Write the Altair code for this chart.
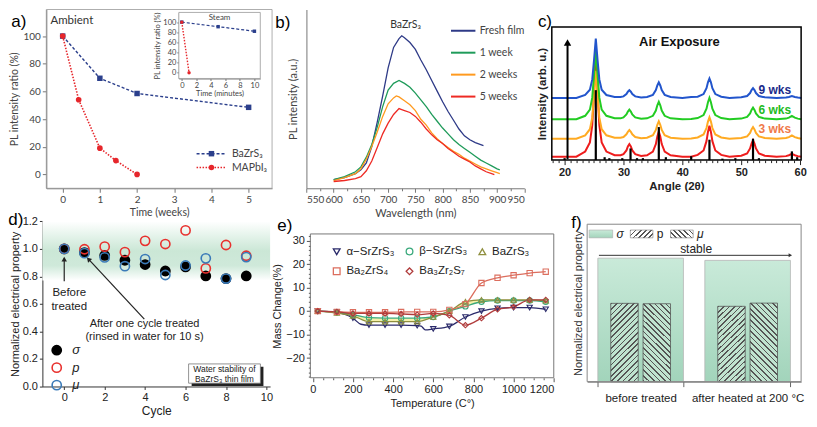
import altair as alt
import pandas as pd

FONT = "Liberation Sans"
FONT_AB = "Lato"

# ---------------- (a) PL intensity ratio vs time ----------------
a_weeks_bzs = [0, 1, 2, 5]
a_ratio_bzs = [100, 69.5, 58.5, 48.5]
a_weeks_mapi = [0, 0.43, 1, 1.43, 2]
a_ratio_mapi = [100, 54, 19, 10, 0]
a_min_bzs = [0, 5, 10]
a_steam_bzs = [100, 91, 82]
a_min_mapi = [0, 1]
a_steam_mapi = [100, 0]

# ---------------- (b) PL spectra ----------------
B_SERIES = ["Fresh film", "1 week", "2 weeks", "5 weeks"]
b_wl_fresh = [600, 620, 640, 650, 660, 670, 680, 690, 700, 710, 720, 725, 730, 740, 750, 760, 770, 780, 790, 800, 810, 820, 830, 840, 850, 860, 870, 875]
b_fresh = [9, 11, 15, 19, 26, 43, 68, 95, 124, 145, 154, 157, 155, 150, 143, 132, 122, 111, 100, 89, 79, 70, 61, 54, 50, 47, 45, 44]
b_wl_1w = [600, 620, 640, 650, 660, 670, 680, 690, 700, 710, 720, 730, 740, 750, 760, 770, 780, 790, 800, 810, 820, 830, 840, 850, 860, 870, 880, 890, 900, 905]
b_1w = [9, 12, 17, 22, 32, 45, 63, 84, 101, 108, 111, 108, 104, 98, 91, 84, 76, 69, 62, 56, 50, 45, 41, 37, 33, 29, 26, 23, 20, 19]
b_wl_2w = [600, 620, 640, 650, 660, 670, 680, 690, 700, 710, 715, 720, 730, 740, 750, 760, 770, 780, 790, 800, 810, 820, 830, 840, 850, 860, 870, 880, 890, 900, 905]
b_2w = [8, 11, 15, 20, 30, 43, 58, 74, 87, 93, 95, 94, 90, 86, 80, 71, 65, 57, 51, 46, 42, 38, 35, 31, 28, 25, 22, 20, 18, 16, 15]
b_wl_5w = [600, 620, 640, 650, 660, 670, 680, 690, 700, 710, 720, 725, 730, 740, 750, 760, 770, 780, 790, 800, 810, 820, 830, 840, 850, 860, 870, 880, 890, 895]
b_5w = [7, 8, 10, 12, 18, 28, 42, 56, 67, 76, 82, 81, 80, 78, 74, 68, 61, 55, 50, 46, 41, 37, 33, 30, 27, 23, 20, 17, 15, 14]

# ---------------- (c) XRD ----------------
c_angle = [17.8, 20, 22, 23.5, 24.3, 24.7, 25.0, 25.3, 25.6, 25.9, 26.3, 27.1, 28.5, 29.5, 30.0, 30.5, 30.75, 31, 31.25, 31.5,
           32, 33, 34, 35, 35.5, 35.75, 36, 36.25, 36.5, 37, 38, 40, 41.5, 42.6, 43.6, 44.1, 44.35, 44.6, 44.85, 45.1,
           45.6, 46.6, 48, 50, 51, 51.5, 51.75, 52, 52.25, 52.5, 53, 54, 56, 57.6, 58.1, 58.6, 59.1, 59.6, 60.2]
c_9wks = [64, 64, 64, 67, 72.5, 83, 103, 125, 103, 83, 72.5, 67, 65, 65, 65.6, 68, 70.4, 72, 70.4, 68,
          65.6, 64.5, 65, 67.2, 72, 76.8, 80, 76.8, 72, 67.2, 65, 64, 65, 65.2, 68, 74, 80, 84, 80, 74,
          68, 65.2, 64, 64.6, 66, 69, 72, 74, 72, 69, 66, 64.6, 64, 64.4, 65, 66, 65, 64.4, 64]
c_6wks = [42, 42, 42, 45.6, 52, 64.3, 88, 114, 88, 64.3, 52, 45.6, 43, 43, 44, 47, 50, 52, 50, 47,
          44, 42.6, 43, 45.6, 51, 56.4, 60, 56.4, 51, 45.6, 43, 42, 42.3, 43.3, 46.4, 53, 59.6, 64, 59.6, 53,
          46.4, 43.3, 42, 42.7, 44.4, 48, 51.6, 54, 51.6, 48, 44.4, 42.7, 42, 42.7, 43.7, 45.5, 43.7, 42.7, 42]
c_3wks = [22, 22, 22, 25.5, 31.8, 43.7, 66.8, 92, 66.8, 43.7, 31.8, 25.5, 23, 23, 23.8, 26.5, 29.2, 31, 29.2, 26.5,
          23.8, 22.5, 23, 25.6, 31, 36.4, 40, 36.4, 31, 25.6, 23, 22, 22.3, 23.3, 26.4, 33, 39.6, 44, 39.6, 33,
          26.4, 23.3, 22, 22.7, 24.4, 28, 31.6, 34, 31.6, 28, 24.4, 22.7, 22, 22.7, 23.7, 25.5, 23.7, 22.7, 22]
c_0wks = [3.5, 3.5, 3.5, 8.8, 18.2, 36, 70.5, 108.5, 70.5, 36, 18.2, 8.8, 5, 5, 6.1, 10, 14, 16.5, 14, 10,
          6.1, 4.3, 5, 8.7, 16.5, 24.3, 29.5, 24.3, 16.5, 8.7, 5, 3.5, 3.5, 5.4, 9.9, 19.5, 29, 35.5, 29, 19.5,
          9.9, 5.4, 3.5, 4.5, 6.9, 12, 17, 20.5, 17, 12, 6.9, 4.5, 3.5, 4.1, 5, 6.5, 5, 4.1, 3.5]
c_ref_angle = [20.0, 25.3, 26.8, 27.6, 29.8, 31.2, 32.3, 33.3, 36.0, 37.2, 41.5, 44.6, 46.8, 49.0, 52.0, 53.0, 58.6, 59.5]
c_ref_height = [2, 72, 3, 2, 2, 12, 2, 2, 34, 3, 4, 21, 1.5, 2, 22, 2, 9, 3]

# ---------------- (d) water stability ----------------
d_cycle = [0, 1, 2, 3, 4, 5, 6, 7, 8, 9]
d_sigma = [1.0, 0.973, 0.952, 0.917, 0.886, 0.839, 0.869, 0.803, 0.784, 0.803]
d_p = [1.0, 0.997, 1.016, 0.976, 1.058, 1.035, 1.134, 0.858, 1.028, 0.95]
d_mu = [1.0, 0.969, 0.938, 0.874, 0.926, 0.81, 0.879, 0.931, 0.784, 0.94]

# ---------------- (e) TGA ----------------
E_SERIES = ["α−SrZrS₃", "β−SrZrS₃", "BaZrS₃", "Ba₂ZrS₄", "Ba₃Zr₂S₇"]
e_temp = [25, 120, 200, 280, 360, 440, 520, 600, 680, 760, 840, 920, 1000, 1080, 1160]
e_alpha = [0, -0.5, -3, -6, -6, -6, -6.2, -7.6, -6.5, -2.5, 0, 1.2, 1.5, 1.5, 0.8]
e_alpha_extra_temp = [240, 540, 560]
e_alpha_extra = [-5.6, -6.4, -8.0]
e_beta = [0, -0.5, -1.5, -2.8, -3, -3, -3, -2.5, 0, 2, 4, 4.5, 4.5, 4.5, 4]
e_bazrs3 = [0, -0.8, -2, -4.5, -4.5, -4.5, -4.5, -2.5, 0, 4, 4.8, 4.8, 4.8, 4.8, 4.5]
e_ba2 = [0, -0.3, -0.5, -0.5, -0.5, -0.4, -0.3, -0.3, 0.5, 3, 12, 14.2, 15.3, 16.2, 16.8]
e_ba3 = [0, -0.3, -1, -1, -1, -1.2, -1.5, -1, -1.8, -6, -3, 0.8, 1.8, 4.8, 4.8]

# ---------------- (f) before / after heating ----------------
F_GROUPS = ["before treated", "after heated at 200 °C"]
f_sigma = [1.0, 0.982]
f_p = [0.634, 0.61]
f_mu = [0.631, 0.636]

# ====================================================================
W_V, H_V = 801, 411          # whole drawing area


def PX(rx):                  # layout helper: reference-figure x -> drawing x
    return (rx - 3) * 0.984


def PY(ry):                  # layout helper: reference-figure y -> drawing y
    return (ry - 2) * 0.974


def bottom_off(ry):
    return -(H_V - PY(ry))


one = pd.DataFrame({"k": [0]})
GT = "#444444"
NOLAP = dict(labelOverlap=False)


def axm(values, mod, title, minor=3, major=5, **kw):
    return alt.Axis(values=values,
                    labelExpr=f"datum.value % {mod} ? '' : datum.label",
                    tickSize={"condition": {"test": f"datum.value % {mod}", "value": minor}, "value": major},
                    title=title, **NOLAP, **kw)


def minor_axis(values, orient, offset, size, color):
    return alt.Axis(values=values, labels=False, domain=False, title=None, tickSize=size,
                    orient=orient, offset=offset, tickColor=color)


def panel_label(txt, rx, ry):
    return alt.Chart(one).mark_text(fontSize=17, font=FONT, color="black").encode(
        x=alt.value(PX(rx)), y=alt.value(PY(ry)), text=alt.value(txt))


def frame(x0, x1, y0, y1, color, width):
    return alt.Chart(one).mark_rect(fillOpacity=0, stroke=color, strokeWidth=width).encode(
        x=alt.XDatum(x0), x2=alt.X2Datum(x1), y=alt.YDatum(y0), y2=alt.Y2Datum(y1))


def hatch(direction, w, h, n, line="#555555", bg="#bfe3cf"):
    u, v = 1.0 / h, 1.0 / w
    t = (u + v) / (u * u + v * v)
    a, b = u * t, v * t
    if direction == "/":
        x1, y1, x2, y2 = 0, 0, a, b
    else:
        x1, y1, x2, y2 = 0, 1, a, 1 - b
    stops = []
    for i in range(n):
        s, e, f = i / n, (i + 0.3) / n, (i + 1) / n
        stops += [{"offset": s, "color": line}, {"offset": e, "color": line},
                  {"offset": e, "color": bg}, {"offset": f, "color": bg}]
    return {"gradient": "linear", "x1": x1, "y1": y1, "x2": x2, "y2": y2, "stops": stops}


# ---------------- panel a ----------------
NAVY = "#2b3f8c"
RED_A = "#e6262b"
A_XD, A_YD = [-0.44, 5.63], [-10, 119.2]
xa = alt.Scale(domain=A_XD, range=[PX(40), PX(270)], nice=False, zero=False)
ya = alt.Scale(domain=A_YD, range=[PY(186), PY(2)], nice=False, zero=False)
common_a = dict(labelFont=FONT_AB, titleFont=FONT_AB, labelFontSize=10, titleFontSize=10.5,
                labelColor=GT, titleColor=GT, domainColor="#777", tickColor="#777",
                labelPadding=2, titlePadding=3, format="d")
ax_xa = axm([i * 0.5 for i in range(12)], 1, "Time (weeks)", major=4, minor=2.5,
            orient="bottom", offset=bottom_off(186), **common_a)
ax_ya = axm(list(range(0, 111, 10)), 20, "PL intensity ratio (%)", major=4, minor=2.5,
            orient="left", offset=-PX(40), **common_a)

da_b = pd.DataFrame({"t": a_weeks_bzs, "r": a_ratio_bzs})
da_m = pd.DataFrame({"t": a_weeks_mapi, "r": a_ratio_mapi})
enc_a = dict(x=alt.X("t:Q", scale=xa, axis=ax_xa), y=alt.Y("r:Q", scale=ya, axis=ax_ya))

a_layers = [
    alt.Chart(da_b).mark_line(color=NAVY, strokeDash=[3, 2], strokeWidth=1.4).encode(**enc_a),
    alt.Chart(da_b).mark_point(shape="square", filled=True, size=30, color=NAVY, opacity=1).encode(**enc_a),
    alt.Chart(da_m).mark_line(color=RED_A, strokeDash=[1.5, 1.5], strokeWidth=1.6).encode(**enc_a),
    alt.Chart(da_m).mark_point(shape="circle", filled=True, size=32, color=RED_A, opacity=1).encode(**enc_a),
]
for yv, col, dash, shp, lab in [(15, NAVY, [3, 2], "square", "BaZrS₃"), (5, RED_A, [1.5, 1.5], "circle", "MAPbI₃")]:
    a_layers.append(alt.Chart(one).mark_rule(color=col, strokeDash=dash, strokeWidth=1.4).encode(
        x=alt.XDatum(3.6), x2=alt.X2Datum(4.4), y=alt.YDatum(yv)))
    a_layers.append(alt.Chart(one).mark_point(shape=shp, filled=True, size=30, color=col, opacity=1).encode(
        x=alt.XDatum(4.0), y=alt.YDatum(yv)))
    a_layers.append(alt.Chart(one).mark_text(align="left", fontSize=10.5, font=FONT_AB, color=GT).encode(
        x=alt.XDatum(4.55), y=alt.YDatum(yv), text=alt.value(lab)))
a_layers.append(alt.Chart(one).mark_text(align="left", fontSize=11.5, font=FONT_AB, color="#333").encode(
    x=alt.XDatum(-0.33), y=alt.YDatum(111), text=alt.value("Ambient")))
a_layers.append(frame(A_XD[0], A_XD[1], A_YD[0], A_YD[1], "#999", 0.8))
a_main = alt.layer(*a_layers)

I_XD, I_YD = [-0.41, 10.81], [-11.5, 119.2]
xi = alt.Scale(domain=I_XD, range=[PX(175), PX(258)], nice=False, zero=False)
yi = alt.Scale(domain=I_YD, range=[PY(73), PY(5)], nice=False, zero=False)
common_in = dict(labelFont=FONT_AB, titleFont=FONT_AB, labelFontSize=7.5, titleFontSize=7.5,
                 labelColor=GT, titleColor=GT, domainColor="#777", tickColor="#777",
                 tickSize=2, labelPadding=1, titlePadding=1, format="d", **NOLAP)
ax_xi = alt.Axis(orient="bottom", offset=bottom_off(73), values=[0, 2, 4, 6, 8, 10], title="Time (minutes)", **common_in)
ax_yi = alt.Axis(orient="left", offset=-PX(175), values=[0, 20, 40, 60, 80, 100], title="PL intensity ratio (%)", **common_in)
di_b = pd.DataFrame({"m": a_min_bzs, "r": a_steam_bzs})
di_m = pd.DataFrame({"m": a_min_mapi, "r": a_steam_mapi})
enc_i = dict(x=alt.X("m:Q", scale=xi, axis=ax_xi), y=alt.Y("r:Q", scale=yi, axis=ax_yi))
a_inset = alt.layer(
    alt.Chart(one).mark_rect(fill="white", stroke="#999", strokeWidth=0.8).encode(
        x=alt.XDatum(I_XD[0], scale=xi, axis=ax_xi), x2=alt.X2Datum(I_XD[1]),
        y=alt.YDatum(I_YD[0], scale=yi, axis=ax_yi), y2=alt.Y2Datum(I_YD[1])),
    alt.Chart(di_b).mark_line(color=NAVY, strokeDash=[3, 2], strokeWidth=1.2).encode(**enc_i),
    alt.Chart(di_b).mark_point(shape="square", filled=True, size=12, color=NAVY, opacity=1).encode(**enc_i),
    alt.Chart(di_m).mark_line(color=RED_A, strokeDash=[1.5, 1.5], strokeWidth=1.4).encode(**enc_i),
    alt.Chart(di_m).mark_point(shape="circle", filled=True, size=12, color=RED_A, opacity=1).encode(**enc_i),
    alt.Chart(one).mark_text(fontSize=8, font=FONT_AB, color=GT).encode(
        x=alt.XDatum(5.2), y=alt.YDatum(108), text=alt.value("Steam")),
)
panel_a = alt.layer(a_main, a_inset).resolve_scale(x="independent", y="independent")

# ---------------- panel b ----------------
B_COLORS = ["#2e3a87", "#1f9b5a", "#ff9a1f", "#ee2a24"]
xb = alt.Scale(domain=[550, 950], range=[PX(305), PX(527)], nice=False, zero=False)
yb = alt.Scale(domain=[0, 184], range=[PY(186), PY(2)], nice=False, zero=False)
common_b = dict(common_a, labelFontSize=10, titleFontSize=11)
ax_xb = alt.Axis(values=list(range(550, 951, 50)), title="Wavelength (nm)", tickSize=4,
                 orient="bottom", offset=bottom_off(186), **NOLAP, **common_b)
ax_yb = alt.Axis(orient="left", offset=-PX(305), labels=False, ticks=False, title="PL intensity (a.u.)",
                 domainColor="#777", titleFont=FONT_AB, titleFontSize=11, titleColor=GT, titlePadding=8)
frames = []
for name, wl, val in zip(B_SERIES, [b_wl_fresh, b_wl_1w, b_wl_2w, b_wl_5w], [b_fresh, b_1w, b_2w, b_5w]):
    frames.append(pd.DataFrame({"wl": wl, "v": val, "s": name}))
df_b = pd.concat(frames, ignore_index=True)
leg_b = alt.Legend(title=None, orient="none", legendX=PX(451), legendY=PY(10), symbolType="stroke",
                   symbolStrokeWidth=2, symbolSize=600, labelFontSize=10.5, labelFont=FONT_AB,
                   labelColor=GT, rowPadding=3, labelOffset=3, padding=0)
b_main = alt.layer(
    alt.Chart(df_b).mark_line(strokeWidth=1.3).encode(
        x=alt.X("wl:Q", scale=xb, axis=ax_xb), y=alt.Y("v:Q", scale=yb, axis=ax_yb),
        color=alt.Color("s:N", scale=alt.Scale(domain=B_SERIES, range=B_COLORS), legend=leg_b)),
    alt.Chart(one).mark_text(fontSize=10.5, font=FONT_AB, color="#333").encode(
        x=alt.XDatum(732), y=alt.YDatum(168), text=alt.value("BaZrS₃")),
)
b_minor = alt.Chart(one).mark_point(opacity=0).encode(
    x=alt.XDatum(700, axis=minor_axis(list(range(575, 950, 50)), "bottom", bottom_off(186), 2.5, "#777")))
panel_b = alt.layer(b_main, b_minor).resolve_axis(x="independent")

# ---------------- panel c ----------------
C_XD, C_YD = [17.83, 60.17], [0, 137]
xc = alt.Scale(domain=C_XD, range=[PX(555), PX(809)], nice=False, zero=False)
yc = alt.Scale(domain=C_YD, range=[PY(157), PY(20)], nice=False, zero=False)
ax_xc = alt.Axis(values=[20, 30, 40, 50, 60], title="Angle (2θ)", orient="bottom", offset=bottom_off(157),
                 format="d", tickSize=4.5, labelFontSize=11, labelFontWeight="bold", titleFontSize=11.5,
                 titleFontWeight="bold", labelColor="#222", titleColor="#222", domain=False, tickColor="#222",
                 labelPadding=2, titlePadding=3, **NOLAP)
ax_yc = alt.Axis(orient="left", offset=-PX(555), labels=False, ticks=False, domain=False,
                 title="Intensity (arb. u.)", titleFontWeight="bold", titleFontSize=11.5,
                 titleColor="#222", titlePadding=4)
c_layers = []
for vals, col in [(c_0wks, "#ee1c1c"), (c_3wks, "#ffaa22"), (c_6wks, "#22cc22"), (c_9wks, "#2255cc")]:
    dfc = pd.DataFrame({"a": c_angle, "v": vals})
    c_layers.append(alt.Chart(dfc).mark_line(color=col, strokeWidth=2).encode(
        x=alt.X("a:Q", scale=xc, axis=ax_xc), y=alt.Y("v:Q", scale=yc, axis=ax_yc)))
df_ref = pd.DataFrame({"a": c_ref_angle, "h": c_ref_height})
c_layers.append(alt.Chart(df_ref).mark_rule(color="black", strokeWidth=2.2).encode(
    x="a:Q", y="h:Q", y2=alt.Y2Datum(0)))
c_layers.append(alt.Chart(one).mark_rule(color="black", strokeWidth=2).encode(
    x=alt.XDatum(20.5), y=alt.YDatum(1), y2=alt.Y2Datum(119)))
c_layers.append(alt.Chart(one).mark_point(shape="triangle-up", filled=True, size=55, color="black", opacity=1).encode(
    x=alt.XDatum(20.5), y=alt.YDatum(121)))
for txt, xv, yv, col, fs in [("Air Exposure", 39.5, 122, "#111", 13), ("9 wks", 55.7, 72, "#1a2a8a", 12),
                             ("6 wks", 55.7, 52, "#22bb22", 12), ("3 wks", 55.7, 32, "#f07a4a", 12)]:
    c_layers.append(alt.Chart(one).mark_text(fontSize=fs, fontWeight="bold", font=FONT, color=col).encode(
        x=alt.XDatum(xv), y=alt.YDatum(yv), text=alt.value(txt)))
c_layers.append(frame(C_XD[0], C_XD[1], C_YD[0], C_YD[1], "black", 1.5))
c_main = alt.layer(*c_layers)
c_minor = alt.Chart(one).mark_point(opacity=0).encode(
    x=alt.XDatum(25, axis=minor_axis([v for v in range(18, 61) if v % 10], "bottom", bottom_off(157), 2.5, "#222")))
panel_c = alt.layer(c_main, c_minor).resolve_axis(x="independent")

# ---------------- panel d ----------------
D_XD, D_YD = [-1.08, 10.18], [0, 1.2]
xd = alt.Scale(domain=D_XD, range=[PX(36), PX(268)], nice=False, zero=False)
yd = alt.Scale(domain=D_YD, range=[PY(390), PY(220)], nice=False, zero=False)
common_d = dict(labelFontSize=11, titleFontSize=11, labelColor="#222", titleColor="#222",
                domainColor="#333", tickColor="#333", tickSize=3, labelPadding=2, titlePadding=2, **NOLAP)
ax_xd = alt.Axis(orient="bottom", offset=bottom_off(390), values=[0, 2, 4, 6, 8, 10], format="d",
                 title="Cycle", **dict(common_d, titleFontSize=12, titlePadding=3))
ax_yd = alt.Axis(orient="left", offset=-PX(36), values=[round(0.2 * i, 1) for i in range(7)], format=".1f",
                 title="Normalized electrical property", **common_d)
D_GRAD = {"gradient": "linear", "x1": 0, "y1": 0, "x2": 0, "y2": 1,
          "stops": [{"offset": 0, "color": "#ffffff"}, {"offset": 0.25, "color": "#e4f3ea"},
                    {"offset": 0.5, "color": "#cbe7d6"}, {"offset": 0.75, "color": "#cfe9da"},
                    {"offset": 1, "color": "#ffffff"}]}
D_PROPS = ["σ", "p", "μ"]
df_d = pd.concat([pd.DataFrame({"c": d_cycle, "v": vals, "prop": nm})
                  for nm, vals in zip(D_PROPS, [d_sigma, d_p, d_mu])], ignore_index=True)
leg_d = alt.Legend(title=None, orient="none", legendX=PX(44), legendY=PY(346), labelFontSize=13,
                   labelFontStyle="italic", symbolSize=85, symbolStrokeWidth=1.6, rowPadding=0.5,
                   labelOffset=9, padding=0, labelColor="#222")
d_layers = [
    alt.Chart(one).mark_rect(fill=D_GRAD).encode(
        x=alt.XDatum(D_XD[0], scale=xd, axis=ax_xd), x2=alt.X2Datum(D_XD[1]),
        y=alt.YDatum(0.77, scale=yd, axis=ax_yd), y2=alt.Y2Datum(1.2)),
    alt.Chart(df_d).mark_point(size=85, strokeWidth=1.6, opacity=1).encode(
        x=alt.X("c:Q", scale=xd, axis=ax_xd), y=alt.Y("v:Q", scale=yd, axis=ax_yd),
        stroke=alt.Stroke("prop:N", scale=alt.Scale(domain=D_PROPS, range=["black", "#e8312e", "#3a7ab8"]), legend=leg_d),
        fill=alt.Fill("prop:N", scale=alt.Scale(domain=D_PROPS, range=["black", "transparent", "transparent"]), legend=leg_d)),
    alt.Chart(one).mark_rule(color="#222", strokeWidth=1.2).encode(
        x=alt.XDatum(0), y=alt.YDatum(0.765), y2=alt.Y2Datum(0.93)),
    alt.Chart(one).mark_point(shape="triangle-up", filled=True, size=30, color="#222", opacity=1).encode(
        x=alt.XDatum(0), y=alt.YDatum(0.925)),
    alt.Chart(one).mark_rule(color="#222", strokeWidth=1.2).encode(
        x=alt.XDatum(3.96), x2=alt.X2Datum(1.2), y=alt.YDatum(0.49), y2=alt.Y2Datum(0.925)),
    alt.Chart(one).mark_point(shape="triangle-up", filled=True, size=30, color="#222", opacity=1, angle=318).encode(
        x=alt.XDatum(1.2), y=alt.YDatum(0.925)),
    alt.Chart(one).mark_text(fontSize=11.5, font=FONT, color="#222", lineBreak="\n", lineHeight=14).encode(
        x=alt.XDatum(0.25), y=alt.YDatum(0.68), text=alt.value("Before\ntreated")),
    alt.Chart(one).mark_text(fontSize=11, font=FONT, color="#222", lineBreak="\n", lineHeight=13).encode(
        x=alt.XDatum(3.97), y=alt.YDatum(0.452), text=alt.value("After one cycle treated\n(rinsed in water for 10 s)")),
    alt.Chart(one).mark_rect(fill="#222").encode(
        x=alt.XDatum(6.3), x2=alt.X2Datum(9.85), y=alt.YDatum(0.004), y2=alt.Y2Datum(0.143)),
    alt.Chart(one).mark_rect(fill="white", stroke="#777", strokeWidth=0.8).encode(
        x=alt.XDatum(6.15), x2=alt.X2Datum(9.7), y=alt.YDatum(0.024), y2=alt.Y2Datum(0.164)),
    alt.Chart(one).mark_text(fontSize=8.5, font=FONT, color="#222", lineBreak="\n", lineHeight=10).encode(
        x=alt.XDatum(7.92), y=alt.YDatum(0.13), text=alt.value("Water stability of\nBaZrS₃ thin film")),
]
panel_d = alt.layer(*d_layers)

# ---------------- panel e ----------------
E_COLORS = ["#2b2b6b", "#3aa97c", "#8f8f3f", "#dc6e5e", "#b03c3c"]
E_SHAPES = ["triangle-down", "circle", "triangle-up", "square", "diamond"]
E_XD, E_YD = [-12, 1200], [-28.4, 32.9]
xe = alt.Scale(domain=E_XD, range=[PX(309), PX(557)], nice=False, zero=False)
ye = alt.Scale(domain=E_YD, range=[PY(381), PY(233)], nice=False, zero=False)
common_e = dict(labelFontSize=11, titleFontSize=11, labelColor="#222", titleColor="#222",
                domain=False, tickColor="#555", labelPadding=2, titlePadding=3, tickSize=4, **NOLAP)
ax_xe = alt.Axis(values=list(range(0, 1201, 200)), title="Temperature (C°)", format="d",
                 orient="bottom", offset=bottom_off(381), **common_e)
ax_ye = alt.Axis(values=[-20, -10, 0, 10, 20, 30], title="Mass Change(%)",
                 orient="left", offset=-PX(309), **common_e)
e_vals = [e_alpha, e_beta, e_bazrs3, e_ba2, e_ba3]
df_e = pd.concat([pd.DataFrame({"T": e_temp, "m": vals, "s": nm}) for nm, vals in zip(E_SERIES, e_vals)],
                 ignore_index=True)
X_E = alt.X("T:Q", scale=xe, axis=ax_xe)
Y_E = alt.Y("m:Q", scale=ye, axis=ax_ye)
df_band = pd.DataFrame({"T": e_temp, "lo": e_bazrs3, "hi": e_beta})
e_layers = [alt.Chart(df_band).mark_area(color="#f3ee9c", opacity=0.85, interpolate="monotone").encode(
    x=X_E, y=alt.Y("lo:Q", scale=ye, axis=ax_ye), y2="hi:Q")]
for i, (nm, vals, col) in enumerate(zip(E_SERIES, e_vals, E_COLORS)):
    if i == 0:
        dl = pd.DataFrame({"T": e_temp + e_alpha_extra_temp, "m": vals + e_alpha_extra}).sort_values("T")
    else:
        dl = pd.DataFrame({"T": e_temp, "m": vals})
    e_layers.append(alt.Chart(dl).mark_line(color=col, strokeWidth=1.3, interpolate="monotone").encode(x=X_E, y=Y_E))
leg_e = alt.Legend(title=None, orient="none", legendX=PX(330), legendY=PY(245), columns=3, direction="horizontal",
                   labelFontSize=11.5, labelColor="#222", symbolSize=45, symbolStrokeWidth=1.3, columnPadding=8,
                   rowPadding=7, labelOffset=4, padding=0)
e_layers.append(alt.Chart(df_e).mark_point(filled=False, size=28, strokeWidth=1.1, opacity=1).encode(
    x=X_E, y=Y_E,
    color=alt.Color("s:N", scale=alt.Scale(domain=E_SERIES, range=E_COLORS), legend=leg_e),
    shape=alt.Shape("s:N", scale=alt.Scale(domain=E_SERIES, range=E_SHAPES), legend=leg_e)))
e_layers.append(frame(E_XD[0], E_XD[1], E_YD[0], E_YD[1], "#777", 1))
e_main = alt.layer(*e_layers)
e_minor = alt.Chart(one).mark_point(opacity=0).encode(
    x=alt.XDatum(500, axis=minor_axis([v for v in range(0, 1200, 50) if v % 200], "bottom", bottom_off(381), 2, "#555")),
    y=alt.YDatum(0, axis=minor_axis([v for v in range(-28, 33, 2) if v % 10], "left", -PX(309), 2, "#555")))
panel_e = alt.layer(e_main, e_minor).resolve_axis(x="independent", y="independent")

# ---------------- panel f ----------------
yf = alt.Scale(domain=[0, 1.275], range=[PY(385), PY(223)], nice=False, zero=True)
xf = alt.Scale(domain=F_GROUPS, range=[PX(591), PX(809)], paddingInner=0.2, paddingOuter=0.1)
xoff = alt.Scale(domain=["p", "μ"], paddingInner=0.15, paddingOuter=0.4)
ax_xf = alt.Axis(orient="bottom", offset=bottom_off(385), title=None, labelAngle=0, labelFontSize=11.5,
                 labelColor="#222", tickBand="extent", tickSize=5, domainColor="#666", tickColor="#666",
                 labelPadding=6, **NOLAP)
ax_yf = alt.Axis(orient="left", offset=-PX(591), labels=False, ticks=False, domain=False,
                 title="Normalized electrical property", titleFontSize=11, titleColor="#333", titlePadding=4)
SIG_GRAD = {"gradient": "linear", "x1": 0, "y1": 0, "x2": 0, "y2": 1,
            "stops": [{"offset": 0, "color": "#c9ead9"}, {"offset": 1, "color": "#a2d4bb"}]}
df_fs = pd.DataFrame({"g": F_GROUPS, "v": f_sigma})
df_fh = pd.DataFrame({"g": F_GROUPS * 2, "k": ["p", "p", "μ", "μ"], "v": f_p + f_mu})


def fv(rx, ry):
    return dict(x=alt.value(PX(rx)), y=alt.value(PY(ry)))


f_layers = [
    alt.Chart(df_fs).mark_bar(fill=SIG_GRAD, stroke="#b5b5b5", strokeWidth=0.8).encode(
        x=alt.X("g:N", scale=xf, axis=ax_xf), y=alt.Y("v:Q", scale=yf, axis=ax_yf)),
    alt.Chart(df_fh).transform_filter("datum.k == 'p'").mark_bar(
        fill=hatch("/", 28, 80, 19), stroke="#555", strokeWidth=0.8).encode(
        x=alt.X("g:N", scale=xf, axis=ax_xf), xOffset=alt.XOffset("k:N", scale=xoff),
        y=alt.Y("v:Q", scale=yf, axis=ax_yf)),
    alt.Chart(df_fh).transform_filter("datum.k == 'μ'").mark_bar(
        fill=hatch("\\", 28, 80, 19), stroke="#555", strokeWidth=0.8).encode(
        x=alt.X("g:N", scale=xf, axis=ax_xf), xOffset=alt.XOffset("k:N", scale=xoff),
        y=alt.Y("v:Q", scale=yf, axis=ax_yf)),
    alt.Chart(one).mark_rect(fill=SIG_GRAD, stroke="#aaa", strokeWidth=0.6).encode(
        x=alt.value(PX(593)), x2=alt.value(PX(617)), y=alt.value(PY(229)), y2=alt.value(PY(237))),
    alt.Chart(one).mark_rect(fill=hatch("/", 23, 8, 6, bg="#ffffff"), stroke="#777", strokeWidth=0.6).encode(
        x=alt.value(PX(635)), x2=alt.value(PX(658)), y=alt.value(PY(229)), y2=alt.value(PY(237))),
    alt.Chart(one).mark_rect(fill=hatch("\\", 23, 8, 6, bg="#ffffff"), stroke="#777", strokeWidth=0.6).encode(
        x=alt.value(PX(676)), x2=alt.value(PX(699)), y=alt.value(PY(229)), y2=alt.value(PY(237))),
    alt.Chart(one).mark_text(fontSize=12, font=FONT, fontStyle="italic", color="#222", align="left").encode(
        text=alt.value("σ"), **fv(621, 233)),
    alt.Chart(one).mark_text(fontSize=12, font=FONT, color="#222", align="left").encode(
        text=alt.value("p"), **fv(662, 233)),
    alt.Chart(one).mark_text(fontSize=12, font=FONT, fontStyle="italic", color="#222", align="left").encode(
        text=alt.value("μ"), **fv(703, 233)),
    alt.Chart(one).mark_rule(color="#333", strokeWidth=1).encode(
        x=alt.value(PX(603)), x2=alt.value(PX(797)), y=alt.value(PY(255))),
    alt.Chart(one).mark_point(shape="triangle-right", filled=True, size=16, color="#333", opacity=1).encode(
        **fv(798, 255)),
    alt.Chart(one).mark_text(fontSize=12, font=FONT, color="#222").encode(
        text=alt.value("stable"), **fv(702, 248)),
    alt.Chart(one).mark_rect(fillOpacity=0, stroke="#888", strokeWidth=1).encode(
        x=alt.value(PX(591)), x2=alt.value(PX(809)), y=alt.value(PY(223)), y2=alt.value(PY(385))),
]
panel_f = alt.layer(*f_layers)

labels = alt.layer(
    panel_label("a)", 12, 15), panel_label("b)", 281, 16), panel_label("c)", 548, 15),
    panel_label("d)", 9, 219), panel_label("e)", 283, 225), panel_label("f)", 580, 222),
)

IND = dict(x="independent", y="independent", color="independent", fill="independent",
           stroke="independent", shape="independent")
chart = alt.layer(panel_a, panel_b, panel_c, panel_d, panel_e, panel_f, labels).resolve_scale(**IND).properties(
    width=W_V, height=H_V, padding={"left": 0, "top": 0, "right": 0, "bottom": 0}, background="white"
).configure(font=FONT).configure_axis(
    grid=False, titleFontWeight="normal", labelFont=FONT, titleFont=FONT
).configure_view(stroke=None).configure_legend(labelFont=FONT)

chart.save("out.html", embed_options={"renderer": "svg", "actions": False})
